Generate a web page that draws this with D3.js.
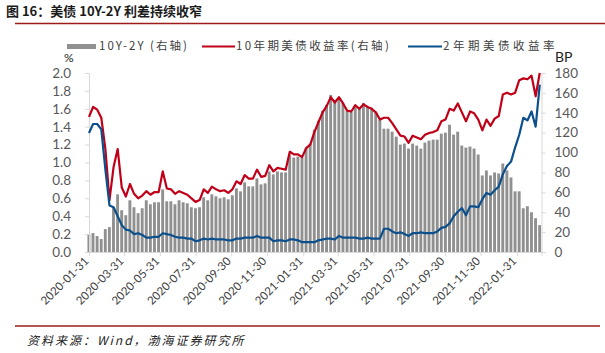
<!DOCTYPE html>
<html><head><meta charset="utf-8">
<script src="https://cdn.jsdelivr.net/npm/d3@7"></script>
<style>
html,body{margin:0;padding:0;background:#fff;}
svg{display:block;}
</style></head>
<body>
<svg id="c" width="605" height="353"></svg>
<script>
// ---- data (weekly, Fridays from 2020-01-31) ----
const startDate = "2020-01-31";
const endDate = "2022-03-11";
const y10 = [1.51,1.62,1.59,1.50,1.15,0.58,0.95,1.15,0.72,0.62,
0.76,0.65,0.60,0.63,0.68,0.64,0.67,0.67,0.90,0.71,
0.70,0.65,0.68,0.66,0.64,0.60,0.56,0.58,0.70,0.66,
0.73,0.70,0.68,0.69,0.66,0.70,0.79,0.76,0.86,0.82,
0.82,0.92,0.84,0.85,0.97,0.90,0.94,0.93,0.92,1.12,
1.09,1.09,1.06,1.16,1.20,1.34,1.45,1.56,1.63,1.73,
1.67,1.73,1.66,1.58,1.57,1.64,1.60,1.65,1.62,1.60,
1.56,1.48,1.50,1.50,1.44,1.37,1.30,1.29,1.22,1.30,
1.28,1.26,1.31,1.33,1.34,1.36,1.46,1.48,1.60,1.58,
1.66,1.56,1.46,1.57,1.55,1.48,1.36,1.48,1.41,1.49,
1.52,1.76,1.78,1.76,1.78,1.92,1.94,1.93,1.97,1.74,
2.00];
const y2 = [1.33,1.43,1.43,1.37,0.92,0.52,0.50,0.40,0.30,0.25,
0.24,0.20,0.21,0.19,0.16,0.16,0.17,0.17,0.21,0.20,
0.19,0.17,0.16,0.16,0.15,0.15,0.12,0.13,0.15,0.14,
0.15,0.14,0.14,0.14,0.13,0.13,0.15,0.15,0.16,0.16,
0.16,0.18,0.16,0.16,0.16,0.12,0.13,0.13,0.12,0.14,
0.14,0.13,0.11,0.11,0.11,0.11,0.13,0.14,0.15,0.15,
0.14,0.18,0.16,0.16,0.16,0.16,0.15,0.15,0.16,0.15,
0.15,0.15,0.26,0.26,0.23,0.21,0.22,0.20,0.18,0.21,
0.21,0.22,0.21,0.21,0.21,0.23,0.27,0.28,0.32,0.40,
0.45,0.49,0.41,0.51,0.51,0.50,0.59,0.66,0.64,0.69,
0.73,0.87,0.96,1.01,1.17,1.31,1.50,1.47,1.57,1.40,
1.87];
const spreadBP = [18,19,16,13,23,25,45,58,42,37,
52,45,39,44,52,48,50,50,63,51,
51,48,52,50,49,45,44,45,55,52,
58,56,54,55,53,57,64,61,70,66,
66,74,68,69,81,78,81,80,80,98,
95,96,95,105,109,123,132,142,148,158,
153,155,150,142,141,148,145,150,146,145,
141,133,124,124,121,116,108,109,104,109,
107,104,110,112,113,113,119,120,128,118,
121,107,105,106,104,98,77,82,77,80,
79,89,82,75,61,61,44,46,40,34,
27];
const xTickLabels = ["2020-01-31","2020-03-31","2020-05-31","2020-07-31","2020-09-30","2020-11-30",
"2021-01-31","2021-03-31","2021-05-31","2021-07-31","2021-09-30","2021-11-30","2022-01-31"];
const leftTicks = [0,0.2,0.4,0.6,0.8,1.0,1.2,1.4,1.6,1.8,2.0];
const rightTicks = [0,20,40,60,80,100,120,140,160,180];
const legendLabels = ["10Y-2Y (右轴)","10年期美债收益率(右轴)","2年期美债收益率"];
const titleText = "图 16：美债 10Y-2Y 利差持续收窄";
const sourceText = "资料来源：Wind，渤海证券研究所";

// ---- layout ----
const parse = d3.timeParse("%Y-%m-%d");
const dates = d3.timeFriday.range(parse(startDate), d3.timeDay.offset(parse(endDate), 1));
const L = 89, R = 541.5, T = 73, B = 252;
const svg = d3.select("#c");
const x = d3.scaleTime().domain([parse(startDate), parse("2022-03-14")]).range([L, R]);
const yL = d3.scaleLinear().domain([0, 2]).range([B, T]);
const yR = d3.scaleLinear().domain([0, 180]).range([B, T]);

const RED = "#c00018", BLUE = "#0b4f8c", GRAY = "#909090", AX = "#d9d9d9";

// title
svg.append("text").attr("x", 6).attr("y", 16).text(titleText)
  .attr("font-family", "Noto Sans CJK SC").attr("font-weight", "bold").attr("font-size", 13).attr("fill", "#1a1a1a");
svg.append("line").attr("x1", 15).attr("x2", 605).attr("y1", 23.5).attr("y2", 23.5).attr("stroke", "#9e1b1b").attr("stroke-width", 1.6);
svg.append("line").attr("x1", 15).attr("x2", 600).attr("y1", 326).attr("y2", 326).attr("stroke", "#9e1b1b").attr("stroke-width", 1.6);
svg.append("text").attr("x", 27).attr("y", 345).text(sourceText)
  .attr("font-family", "Noto Sans CJK SC").attr("font-style", "italic").attr("font-size", 12).attr("fill", "#222")
  .attr("letter-spacing", 2);

// bars
const step = x(dates[1]) - x(dates[0]);
svg.append("g").selectAll("rect").data(spreadBP).join("rect")
  .attr("x", (d, i) => x(dates[i]) - (step - 1) / 2)
  .attr("width", step - 1.2)
  .attr("y", d => yR(d)).attr("height", d => B - yR(d))
  .attr("fill", GRAY);

// axes
const gL = svg.append("g").attr("transform", `translate(${L},0)`)
  .call(d3.axisLeft(yL).tickValues(leftTicks).tickFormat(d3.format(".1f")).tickSize(4).tickPadding(14));
const gR = svg.append("g").attr("transform", `translate(${R},0)`)
  .call(d3.axisRight(yR).tickValues(rightTicks).tickSize(4).tickPadding(9));
const gB = svg.append("g").attr("transform", `translate(0,${B})`)
  .call(d3.axisBottom(x).tickValues(xTickLabels.map(parse)).tickFormat(d3.timeFormat("%Y-%m-%d")).tickSize(4));
[gL, gR, gB].forEach(g => {
  g.selectAll("path.domain,line").attr("stroke", AX);
  g.selectAll("text").attr("font-family", "Lato").attr("fill", "#595959");
});
gL.selectAll("text").attr("font-size", 13.5);
gR.selectAll("text").attr("font-size", 13.5);
gB.selectAll("text").attr("font-size", 11.5).attr("fill", "#404040")
  .attr("text-anchor", "end").attr("dy", "0.35em")
  .attr("transform", "translate(-3,7) rotate(-45)")
  .attr("x", 0).attr("y", 0);

// lines
const line = d3.line().x((d, i) => x(dates[i])).y(d => yL(d));
svg.append("path").datum(y10).attr("d", line).attr("fill", "none").attr("stroke", RED).attr("stroke-width", 2.2).attr("stroke-linejoin", "round");
svg.append("path").datum(y2).attr("d", line).attr("fill", "none").attr("stroke", BLUE).attr("stroke-width", 2.2).attr("stroke-linejoin", "round");

// units
svg.append("text").attr("x", 64).attr("y", 62).text("%").attr("font-family", "Lato").attr("font-size", 12).attr("fill", "#222");
svg.append("text").attr("x", 555).attr("y", 62).text("BP").attr("font-family", "Lato").attr("font-size", 14).attr("fill", "#222");

// legend
const lg = svg.append("g").attr("font-family", "Noto Sans CJK SC").attr("font-size", 11.5).attr("fill", "#404040");
lg.append("rect").attr("x", 67).attr("y", 44).attr("width", 29).attr("height", 5).attr("fill", GRAY);
lg.append("text").attr("x", 99).attr("y", 50).text(legendLabels[0]).attr("letter-spacing", 2);
lg.append("line").attr("x1", 202).attr("x2", 235).attr("y1", 46.5).attr("y2", 46.5).attr("stroke", RED).attr("stroke-width", 2.2);
lg.append("text").attr("x", 236).attr("y", 50).text(legendLabels[1]).attr("letter-spacing", 2.4);
lg.append("line").attr("x1", 408).attr("x2", 442).attr("y1", 46.5).attr("y2", 46.5).attr("stroke", BLUE).attr("stroke-width", 2.2);
lg.append("text").attr("x", 443).attr("y", 50).text(legendLabels[2]).attr("letter-spacing", 3.5);
</script>
</body></html>
